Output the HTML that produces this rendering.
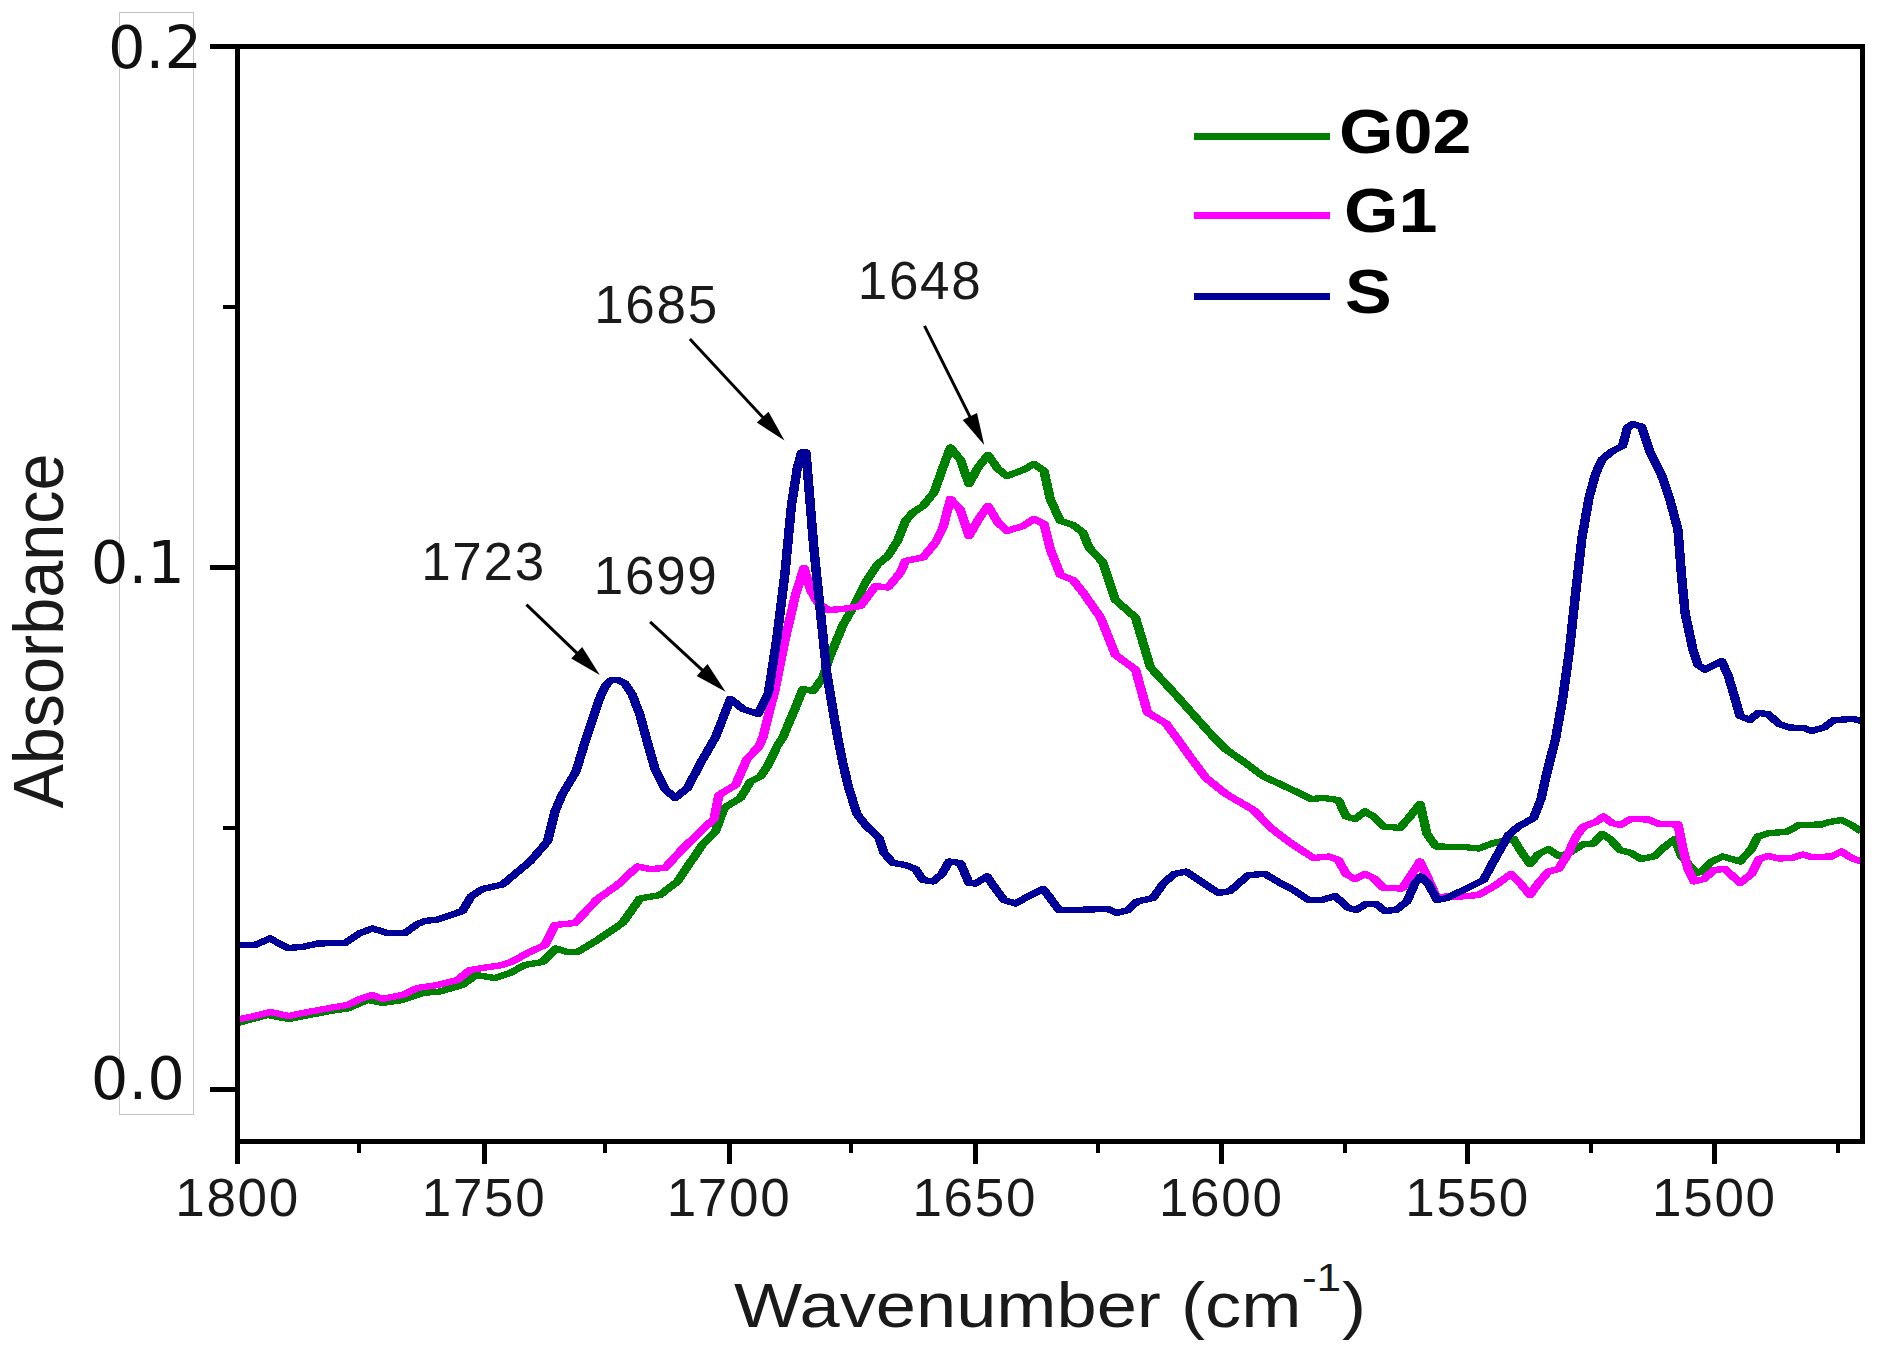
<!DOCTYPE html>
<html><head><meta charset="utf-8"><title>FTIR Absorbance</title>
<style>
html,body{margin:0;padding:0;background:#fff;}
body{width:1892px;height:1356px;overflow:hidden;}
svg{display:block;}
text{font-family:"Liberation Sans",sans-serif;fill:#1a1a1a;}
.yt{font-family:"DejaVu Sans","Liberation Sans",sans-serif;fill:#111;}
.leg{font-weight:bold;fill:#000;}
</style></head><body>
<svg width="1892" height="1356" viewBox="0 0 1892 1356">
<rect x="0" y="0" width="1892" height="1356" fill="#fff"/>
<rect x="119.5" y="12.5" width="74" height="1102" fill="none" stroke="#c4c4c4" stroke-width="1" shape-rendering="crispEdges"/>
<g transform="scale(1.5,1)"><polyline points="158.33,1023 178.33,1015 192.67,1019 220.00,1011 231.67,1008.5 245.00,1000 255.00,1003 268.33,1000 281.67,993 293.33,991.5 308.33,985 317.33,975 330.00,978 340.00,973 350.00,965 361.67,962 370.67,948.5 378.33,952 385.00,952 398.33,940 415.00,923 426.67,898.5 440.00,895 451.67,881.5 468.33,844.5 477.00,831.5 482.67,808 493.67,798 500.33,781.5 507.00,776.5 512.00,765 518.00,746.5 522.00,737 530.33,707.5 535.33,689 542.00,691 548.67,677.5 553.67,655 562.00,625 568.67,607.5 577.00,582.5 585.33,564 592.00,556 598.67,540 603.67,521 608.67,512.5 615.33,506 622.67,492.5 628.67,467.5 633.67,447.5 640.33,460 646.00,484 652.00,467.5 658.67,455 665.33,469 671.33,476 682.00,470 689.33,464 696.00,471 700.33,500 707.00,521 715.33,525 722.00,532.5 726.00,547.5 735.33,562.5 743.67,600 757.00,617.5 767.00,667.5 784.00,695 794.00,712 809.00,737 817.33,749.5 829.00,761.5 842.33,776.5 859.00,788 874.00,799 882.33,798 892.33,800 897.33,816.5 903.33,819 910.00,811.5 915.67,816.5 922.33,826.5 933.33,828 940.00,816.5 946.67,804 951.33,834 957.33,846.5 975.67,847 985.67,848.5 995.67,843 1009.00,839 1014.00,851.5 1020.00,864 1025.67,854 1032.33,849 1039.00,856 1045.67,853.5 1055.67,844 1062.33,843.5 1068.00,834 1073.33,839 1080.00,850 1087.33,853 1094.00,859 1102.67,856.5 1110.00,846.5 1116.67,839 1121.00,856.5 1131.00,873 1134.33,871.5 1141.00,861.5 1148.67,856.5 1160.00,861.5 1167.67,849 1172.00,836.5 1179.33,833 1191.00,832 1199.33,825 1214.33,824.5 1219.33,822 1227.67,820 1234.33,825 1241.00,831.5" fill="none" stroke="#008000" stroke-width="6.3" stroke-linejoin="round" shape-rendering="crispEdges"/></g>
<g transform="scale(1.5,1)"><polyline points="158.33,1019.5 168.33,1016.5 180.00,1012 192.67,1016 201.67,1013 220.00,1008 231.67,1005 240.00,999 248.33,995 255.00,999 268.33,995 278.33,988 291.67,985 305.00,980 313.33,970 321.67,968 335.00,965 341.67,961.5 351.67,953 363.33,945 370.00,925 383.33,923 398.33,899 411.67,885 425.00,866.5 433.33,869 443.33,868 455.00,849 468.33,829.5 476.00,819 479.33,795 490.33,785 498.00,759 506.00,746.5 508.67,737 517.00,687.5 523.67,637.5 530.33,595 536.00,568 540.33,590 545.33,603 552.00,610 562.00,609 573.67,606 583.67,586 592.00,587.5 600.33,572.5 603.67,561 615.33,557.5 623.67,542.5 628.67,527.5 633.67,499 640.33,510 646.00,536 652.00,520 658.67,506 665.33,522.5 671.33,531 682.00,526 689.33,519 696.00,524 700.33,550 707.00,575 715.33,580 722.00,592.5 733.67,617.5 743.67,655 757.00,669.5 765.00,712.5 777.33,723.5 784.00,737 794.00,758 804.00,778 817.33,794 835.67,810 847.33,828 859.00,841.5 875.67,858 885.67,856.5 892.33,860 897.33,874 903.33,879 910.00,874 915.67,878 922.33,888 934.67,888.5 941.33,874 946.67,861.5 950.67,874 958.00,898 964.00,896.5 974.00,896.5 985.67,895 997.33,885 1007.33,874 1013.33,883 1020.00,895 1025.67,883 1032.33,871.5 1039.00,869 1045.67,853 1050.67,836.5 1055.67,826.5 1064.00,822 1069.00,816.5 1074.67,823 1080.00,825 1087.33,819 1099.00,819.5 1106.00,824 1118.67,824.5 1122.00,849 1125.33,869 1129.33,881.5 1136.00,879 1142.67,870 1150.00,869 1160.00,883 1167.67,874 1172.67,859 1178.67,856 1186.00,858.5 1194.33,858 1202.00,854.5 1207.67,857 1221.00,856.5 1227.67,851.5 1234.33,858 1241.00,861.5" fill="none" stroke="#ff00ff" stroke-width="6.3" stroke-linejoin="round" shape-rendering="crispEdges"/></g>
<g transform="scale(1.5,1)"><polyline points="158.33,945 170.00,945 180.00,938.5 191.67,948 201.67,947 211.67,943.5 230.00,943 240.00,933 248.33,928.5 258.33,933 270.00,933 278.33,924 283.33,921 291.67,919.5 308.33,911 314.00,896.5 321.67,889 335.00,884.5 343.33,874 353.33,861.5 365.00,841.5 370.00,811.5 375.00,794 384.00,771.5 390.00,742 399.33,700 403.33,686.5 407.00,680.5 412.00,680 416.67,683.5 421.33,694 426.67,715 431.33,741 436.67,769 443.33,789 450.00,798 458.33,788 466.67,764 477.00,737 487.00,699 495.33,709 505.33,714 512.33,692.5 518.00,637.5 523.20,575 527.67,505 531.53,468 534.33,452.5 537.33,452.5 539.67,495 542.67,550 547.00,612.5 551.33,675 557.00,725 558.67,739 562.00,764 566.00,789 571.33,814 577.00,825 586.00,838 589.33,853 595.33,863 603.67,865 610.33,869 615.33,880 622.00,881.5 628.00,874 632.67,861.5 640.33,863 646.00,883 650.33,883.5 658.00,876.5 662.67,886.5 669.33,900 677.00,903.5 685.33,896.5 695.33,889 699.33,896.5 706.00,910 713.67,910 738.67,909 744.67,913 752.00,910 758.00,901.5 768.67,898 775.33,884 782.67,874 790.67,871.5 800.67,881.5 812.33,893 820.00,891 832.33,875 843.33,874 854.00,883.5 862.33,890 872.33,900 881.33,900 890.00,896 899.00,908 904.00,910 910.67,904 917.33,904 923.33,911 930.67,910 938.00,901.5 943.33,883 947.33,876.5 952.33,884 958.00,900 964.67,898 975.67,890 989.00,880 995.67,861.5 1005.67,835 1012.33,826.5 1022.33,818 1027.33,799 1030.67,776.5 1034.00,756.5 1037.00,739 1041.67,700 1046.33,650 1050.33,594 1054.67,537.5 1059.33,498 1063.67,474 1068.00,459.5 1075.00,451 1081.67,446 1085.00,427.5 1088.33,424 1094.33,426.5 1100.00,452 1107.67,475 1113.33,500 1118.67,530 1121.00,575 1123.33,612.5 1128.67,650 1132.00,665 1136.67,669.5 1147.67,661 1152.00,675 1156.00,695 1160.00,716 1166.67,720 1172.00,713 1178.67,714 1186.00,724 1192.67,727.5 1202.67,728 1207.67,731 1216.00,727.5 1222.67,720 1236.00,719 1241.00,721" fill="none" stroke="#000099" stroke-width="6.3" stroke-linejoin="round" shape-rendering="crispEdges"/></g>
<g fill="#000" shape-rendering="crispEdges">
<rect x="235" y="44" width="5" height="1120"/>
<rect x="210" y="44" width="1655" height="5"/>
<rect x="1860" y="44" width="5" height="1100"/>
<rect x="235" y="1139" width="1630" height="5"/>
<rect x="210" y="565" width="27" height="5"/>
<rect x="210" y="1087" width="27" height="5"/>
<rect x="223" y="305" width="14" height="4"/>
<rect x="223" y="826" width="14" height="4"/>
<rect x="481.8" y="1141" width="5" height="22.5"/>
<rect x="726.7" y="1141" width="5" height="22.5"/>
<rect x="972.5" y="1141" width="5" height="22.5"/>
<rect x="1219.0" y="1141" width="5" height="22.5"/>
<rect x="1465.3" y="1141" width="5" height="22.5"/>
<rect x="1712.1" y="1141" width="5" height="22.5"/>
<rect x="357.0" y="1141" width="4" height="12"/>
<rect x="603.3" y="1141" width="4" height="12"/>
<rect x="849.4" y="1141" width="4" height="12"/>
<rect x="1096.2" y="1141" width="4" height="12"/>
<rect x="1342.7" y="1141" width="4" height="12"/>
<rect x="1589.2" y="1141" width="4" height="12"/>
<rect x="1835.6" y="1141" width="4" height="12"/>
</g>
<text x="237.6" y="1215.7" font-size="53" letter-spacing="1.7" text-anchor="middle">1800</text>
<text x="484.1" y="1215.7" font-size="53" letter-spacing="1.7" text-anchor="middle">1750</text>
<text x="729.0" y="1215.7" font-size="53" letter-spacing="1.7" text-anchor="middle">1700</text>
<text x="974.8" y="1215.7" font-size="53" letter-spacing="1.7" text-anchor="middle">1650</text>
<text x="1221.3" y="1215.7" font-size="53" letter-spacing="1.7" text-anchor="middle">1600</text>
<text x="1467.6" y="1215.7" font-size="53" letter-spacing="1.7" text-anchor="middle">1550</text>
<text x="1714.4" y="1215.7" font-size="53" letter-spacing="1.7" text-anchor="middle">1500</text>
<text class="yt" transform="translate(155,68.1) scale(1.02,1)" font-size="58" text-anchor="middle">0.2</text>
<text class="yt" transform="translate(137.8,583.4) scale(1.02,1)" font-size="58" text-anchor="middle">0.1</text>
<text class="yt" transform="translate(137.9,1099.2) scale(1.02,1)" font-size="58" text-anchor="middle">0.0</text>
<text transform="translate(734,1326.8) scale(1.147,1)" font-size="63">Wavenumber (cm<tspan font-size="38.5" dy="-35.5" dx="0.5">-1</tspan><tspan dy="35.5" dx="0.8">)</tspan></text>
<text transform="translate(63.3,808.5) rotate(-90) scale(0.95,1)" font-size="70">Absorbance</text>
<g shape-rendering="crispEdges"><rect x="1194" y="133" width="136" height="7" fill="#008000"/><rect x="1194" y="212" width="136" height="7" fill="#ff00ff"/><rect x="1194" y="293" width="136" height="7" fill="#000099"/></g>
<text class="leg" transform="translate(1339,152.7) scale(1.13,1)" font-size="62">G02</text>
<text class="leg" transform="translate(1344,231.6) scale(1.13,1)" font-size="62">G1</text>
<text class="leg" transform="translate(1345,313) scale(1.13,1)" font-size="62">S</text>
<text x="483.5" y="579.6" font-size="53" letter-spacing="1.7" text-anchor="middle">1723</text>
<text x="656.2" y="594.4" font-size="53" letter-spacing="1.7" text-anchor="middle">1699</text>
<text x="656.5" y="323.4" font-size="53" letter-spacing="1.7" text-anchor="middle">1685</text>
<text x="920.1" y="298.5" font-size="53" letter-spacing="1.7" text-anchor="middle">1648</text>
<line x1="526.4" y1="604.6" x2="579.6" y2="655.6" stroke="#000" stroke-width="3"/><polygon points="599.8,675.0 571.2,658.6 582.2,647.1" fill="#000"/>
<line x1="650.1" y1="621.9" x2="705.0" y2="672.7" stroke="#000" stroke-width="3"/><polygon points="725.6,691.7 696.7,675.9 707.5,664.1" fill="#000"/>
<line x1="689.9" y1="339.1" x2="765.4" y2="420.1" stroke="#000" stroke-width="3"/><polygon points="784.5,440.6 756.8,422.6 768.5,411.7" fill="#000"/>
<line x1="924.5" y1="325.9" x2="971.7" y2="420.1" stroke="#000" stroke-width="3"/><polygon points="984.2,445.1 962.7,420.1 977.0,412.9" fill="#000"/>
</svg></body></html>
